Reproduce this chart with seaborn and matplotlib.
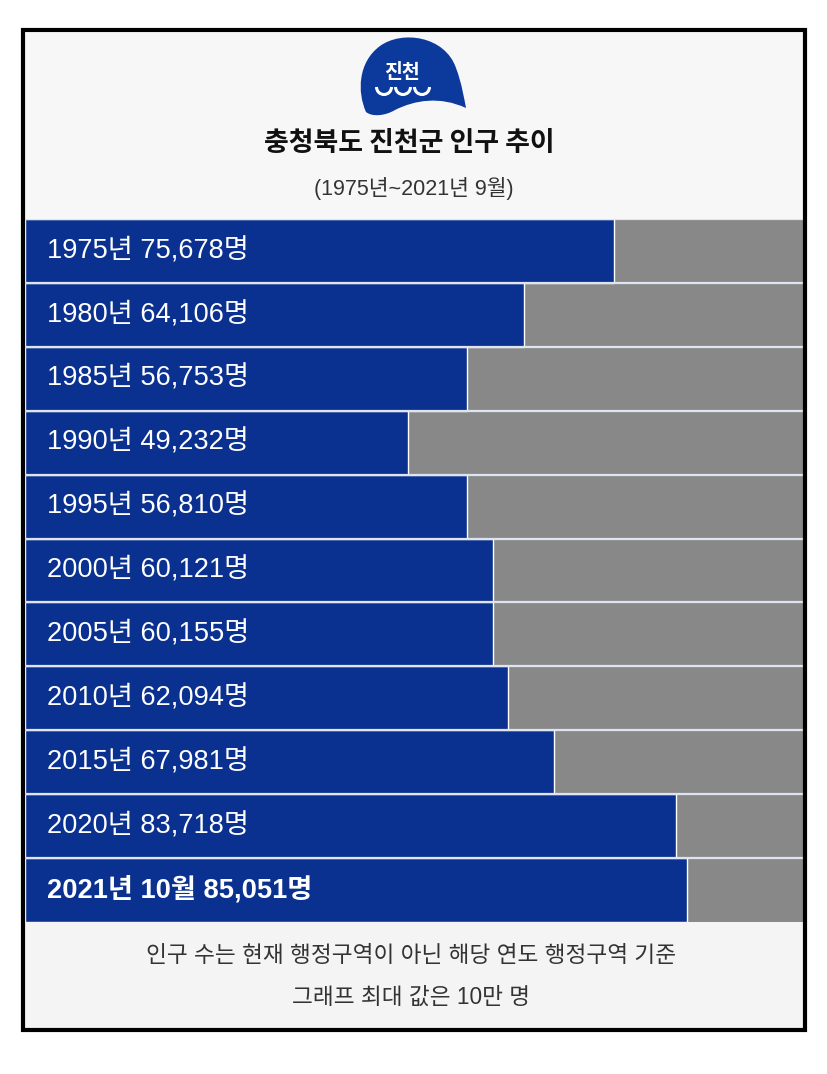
import matplotlib.pyplot as plt
import matplotlib.patches as mpatches
import matplotlib.transforms as mtransforms
from matplotlib.path import Path
import pandas as pd
import seaborn as sns

# data
years = ['1975년', '1980년', '1985년', '1990년', '1995년', '2000년',
         '2005년', '2010년', '2015년', '2020년', '2021년 10월']
population = [75678, 64106, 56753, 49232, 56810, 60121,
              60155, 62094, 67981, 83718, 85051]
graph_max = 100000

title = '충청북도 진천군 인구 추이'
subtitle = '(1975년~2021년 9월)'
notes = ['인구 수는 현재 행정구역이 아닌 해당 연도 행정구역 기준',
         '그래프 최대 값은 10만 명']

blue = '#0a318f'
gray = '#888888'

sns.set_theme(style='white')
plt.rcParams['font.family'] = ['Liberation Sans', 'Noto Sans CJK KR', 'DejaVu Sans']

W, H = 828, 1074
fig = plt.figure(figsize=(W / 100, H / 100), dpi=100)
fig.patch.set_facecolor('white')


def box(x0, y0, x1, y1):
    # pixel box (top-left origin) -> figure fraction rect
    return [x0 / W, 1 - y1 / H, (x1 - x0) / W, (y1 - y0) / H]


def fx(x):
    return x / W


def fy(y):
    return 1 - y / H


# header / footer panels
for (x0, y0, x1, y1), fc in [((25, 33, 803, 219), '#f7f7f7'),
                             ((25, 922, 803, 1028), '#f4f4f4')]:
    fig.patches.append(mpatches.Rectangle((fx(x0), fy(y1)), fx(x1 - x0), (y1 - y0) / H,
                                          transform=fig.transFigure, facecolor=fc,
                                          edgecolor='none', zorder=0))

# logo (blue drop shape)
pts = [(366, 112),
       (357, 92), (358, 62), (380, 46),
       (402, 30), (445, 36), (456, 68),
       (462, 84), (464, 98), (466, 108),
       (440, 96), (415, 100), (395, 110),
       (385, 116), (372, 117), (366, 112)]
codes = [Path.MOVETO] + [Path.CURVE4] * 15
logo = Path([(fx(x), fy(y)) for x, y in pts], codes)
fig.patches.append(mpatches.PathPatch(logo, transform=fig.transFigure,
                                      facecolor='#0b3a9c', edgecolor='none', zorder=2))
fig.text(fx(402), fy(72), '진천', color='white', fontsize=14, fontweight='bold',
         ha='center', va='center', family=['Noto Sans CJK KR'], zorder=3)
for cx in (384, 403, 422):
    fig.patches.append(mpatches.Arc((fx(cx), fy(87)), 15 / W, 15 / H, theta1=180, theta2=360,
                                    transform=fig.transFigure, color='white', lw=2.2, zorder=3))

fig.text(fx(409), fy(143), title, ha='center', va='center', fontsize=19.4,
         fontweight='bold', color='#111111', family=['Noto Sans CJK KR'])
fig.text(fx(414), fy(188), subtitle, ha='center', va='center', fontsize=15.5,
         color='#333333')

# bars
df = pd.DataFrame({'year': years, 'population': population})
ax = fig.add_axes(box(25, 219, 803, 922))
sns.barplot(data=df, x='population', y='year', orient='h', color=blue,
            width=1, saturation=1, ax=ax, zorder=2)
ax.set_facecolor(gray)
ax.set_xlim(0, graph_max)
ax.set_ylim(len(years) - 0.5, -0.5)
ax.set(xticks=[], yticks=[], xlabel='', ylabel='')
for s in ax.spines.values():
    s.set_visible(False)
for i in range(len(years)):
    ax.axhline(i - 0.5, color='#dfe5f0', lw=1.6, zorder=3, clip_on=False)

trans = mtransforms.blended_transform_factory(ax.transAxes, ax.transData)
for i, (yr, pop) in enumerate(zip(years, population)):
    last = i == len(years) - 1
    ax.text(22 / 778, i, f'{yr} {pop:,}명', transform=trans, color='white',
            fontsize=19.6, va='center', ha='left',
            fontweight='bold' if last else 'normal', zorder=4)

for y, line in zip((955, 997), notes):
    fig.text(fx(411), fy(y), line, ha='center', va='center', fontsize=16.3,
             color='#333333')

# outer frame
fig.patches.append(mpatches.Rectangle((fx(23), fy(1030)), fx(782), 1000 / H,
                                      transform=fig.transFigure, facecolor='none',
                                      edgecolor='black', lw=3, zorder=10))

fig.savefig('out.png', dpi=100, facecolor='white')
